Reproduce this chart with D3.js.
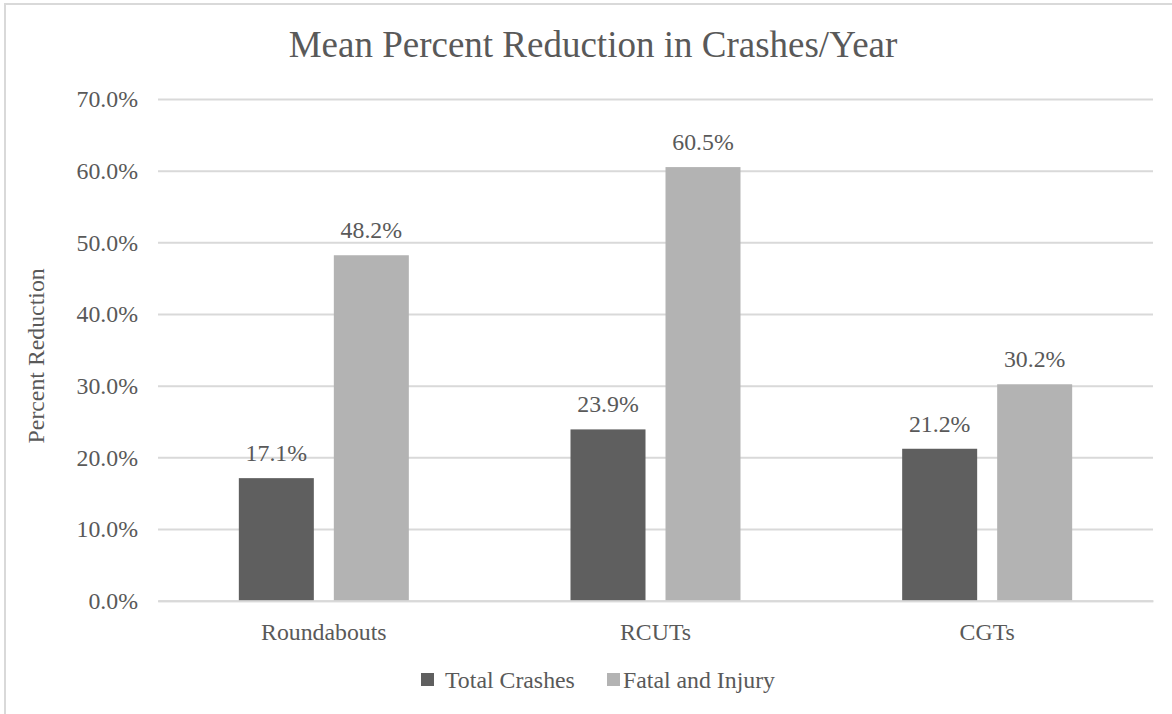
<!DOCTYPE html>
<html>
<head>
<meta charset="utf-8">
<script src="https://cdn.jsdelivr.net/npm/d3@7"></script>
<style>
  html, body { margin: 0; padding: 0; background: #fff; }
  svg { display: block; }
  text { font-family: "Liberation Serif", "Times New Roman", serif; fill: #595959; }
</style>
</head>
<body>
<script>
// Chart data
const categories = ["Roundabouts", "RCUTs", "CGTs"];
const seriesNames = ["Total Crashes", "Fatal and Injury"];
const totalCrashes = [17.1, 23.9, 21.2];
const fatalAndInjury = [48.2, 60.5, 30.2];
const yTicks = [0, 10, 20, 30, 40, 50, 60, 70];
const seriesColors = ["#5f5f5f", "#b3b3b3"];

const W = 1172, H = 714;
const svg = d3.select("body").append("svg").attr("width", W).attr("height", H);

// Outer chart frame
svg.append("rect")
  .attr("x", 5).attr("y", 4).attr("width", 1200).attr("height", 800)
  .attr("fill", "#fff").attr("stroke", "#d9d9d9").attr("stroke-width", 2);

const plot = { left: 158, right: 1153, top: 99, bottom: 600.7 };

const x0 = d3.scaleBand().domain(categories).range([plot.left, plot.right]).padding(0);
const groupW = 170;
const x1 = d3.scaleBand().domain(seriesNames).range([0, groupW]).paddingInner(20 / 95).paddingOuter(0);
const y = d3.scaleLinear().domain([0, 70]).range([plot.bottom, plot.top]);

// Title
svg.append("text")
  .attr("x", 593).attr("y", 57)
  .attr("text-anchor", "middle")
  .style("font-size", "37px")
  .text("Mean Percent Reduction in Crashes/Year");

// Gridlines and y tick labels
const yAxis = d3.axisLeft(y)
  .tickValues(yTicks)
  .tickSize(-(plot.right - plot.left))
  .tickPadding(20)
  .tickFormat(d => d.toFixed(1) + "%");

const gy = svg.append("g").attr("transform", `translate(${plot.left},0)`).call(yAxis);
gy.select(".domain").remove();
gy.selectAll(".tick line").attr("stroke", "#d9d9d9").attr("stroke-width", 2);
gy.selectAll(".tick text")
  .attr("fill", "#595959")
  .style("font-family", '"Liberation Serif", "Times New Roman", serif')
  .style("font-size", "23.8px")
  .attr("dy", "0.33em");

// Y axis title
svg.append("text")
  .attr("transform", `translate(44, ${(plot.top + plot.bottom) / 2 + 6}) rotate(-90)`)
  .attr("text-anchor", "middle")
  .style("font-size", "23.8px")
  .text("Percent Reduction");

// Bars
const rows = categories.map((c, i) => ({
  category: c,
  values: [
    { series: seriesNames[0], value: totalCrashes[i] },
    { series: seriesNames[1], value: fatalAndInjury[i] }
  ]
}));

const groups = svg.append("g").selectAll("g")
  .data(rows).join("g")
  .attr("transform", d => `translate(${x0(d.category) + x0.bandwidth() / 2 - groupW / 2},0)`);

groups.selectAll("rect")
  .data(d => d.values).join("rect")
  .attr("x", d => x1(d.series))
  .attr("width", x1.bandwidth())
  .attr("y", d => y(d.value))
  .attr("height", d => y(0) - y(d.value))
  .attr("fill", (d, i) => seriesColors[i]);

// Value labels
groups.selectAll("text.val")
  .data(d => d.values).join("text")
  .attr("class", "val")
  .attr("x", d => x1(d.series) + x1.bandwidth() / 2)
  .attr("y", d => y(d.value) - 17)
  .attr("text-anchor", "middle")
  .style("font-size", "23.8px")
  .text(d => d.value.toFixed(1) + "%");

// Category labels
const xAxis = d3.axisBottom(x0).tickSize(0).tickPadding(22);
const gx = svg.append("g").attr("transform", `translate(0,${plot.bottom})`).call(xAxis);
gx.select(".domain").attr("stroke", "#d9d9d9").attr("stroke-width", 2);
gx.selectAll(".tick text")
  .attr("fill", "#595959")
  .style("font-family", '"Liberation Serif", "Times New Roman", serif')
  .style("font-size", "23.8px");

// Legend
const legendX = [421, 607];
const legend = svg.append("g").selectAll("g")
  .data(seriesNames).join("g")
  .attr("transform", (d, i) => `translate(${legendX[i]},673)`);
legend.append("rect")
  .attr("width", 13).attr("height", 13)
  .attr("fill", (d, i) => seriesColors[i]);
legend.append("text")
  .attr("x", (d, i) => i === 0 ? 24 : 16)
  .attr("y", 15)
  .style("font-size", "23.8px")
  .text(d => d);
</script>
</body>
</html>
